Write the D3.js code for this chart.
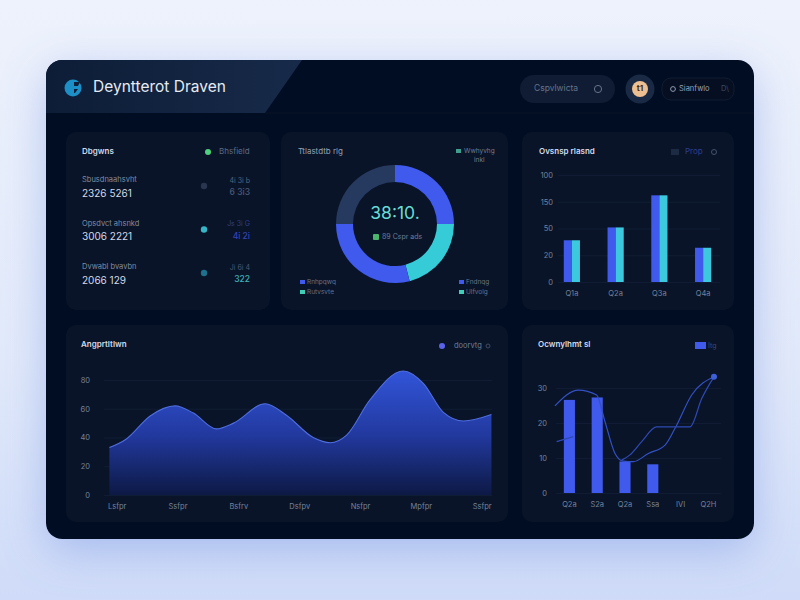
<!DOCTYPE html>
<html>
<head>
<meta charset="utf-8">
<title>Dashboard</title>
<script src="https://cdn.jsdelivr.net/npm/d3@7"></script>
<style>
  html, body { margin: 0; padding: 0; background: #e6ecfa; overflow: hidden; }
  text { font-family: "Inter", "Liberation Sans", sans-serif; }
</style>
</head>
<body>
<div id="graph"></div>
<script>
// Overview list
var listLabels = ["Sbusdnaahsvht", "Opsdvct ahsnkd", "Dvwabl bvavbn"];
var listValues = ["2326  5261", "3006  2221", "2066  129"];
var listSideLabels = ["4i 3i b", "Js 3i G", "Ji 6i 4"];
var listSideValues = ["6 3i3", "4i 2i", "322"];

// Donut
var donutValues = [25, 21, 29, 25];

// Grouped bars
var barCategories = ["Q1a", "Q2a", "Q3a", "Q4a"];
var barValues = [39, 51, 81, 32];
var barTicks = [0, 25, 50, 75, 100];
var barTickLabels = ["0", "20", "50", "150", "100"];

// Area chart
var areaTickLabels = ["Lsfpr", "Ssfpr", "Bsfrv", "Dsfpv", "Nsfpr", "Mpfpr", "Ssfpr"];
var areaX = [-0.12, 0.16, 0.55, 0.96, 1.26, 1.64, 1.92, 2.44, 2.79, 3.23, 3.51, 3.78, 4.16, 4.71, 5.04, 5.37, 5.7, 6.16];
var areaY = [33, 39, 55, 62, 57, 46, 50, 63.5, 55.5, 40, 36.4, 41.7, 66, 86.3, 77.7, 57.5, 51.5, 56];
var areaTicks = [0, 20, 40, 60, 80];

// Combo chart
var comboCategories = ["Q2a", "S2a", "Q2a", "Ssa", "IVI", "Q2H"];
var comboBars = [26.6, 27.3, 9, 8.2];
var comboTicks = [0, 10, 20, 30];
var lineAX = [-0.52, 0.32, 0.98, 1.28, 1.64, 1.94, 2.3, 2.84, 3.44, 3.8, 4.4, 5.2];
var lineAY = [24.9, 29.4, 28, 20.4, 11.3, 9.1, 8.95, 11.3, 13.7, 18.5, 28, 33.2];
var lineBX = [-0.46, 0.14, 1, 1.88, 2.18, 2.6, 3.14, 4.34, 4.76, 5.2];
var lineBY = [14.7, 16.1, null, 9.4, 10.9, 14.7, 18.9, 18.9, 27, 33.2];

var BLUE = "#3f5aec", CYAN = "#3cc9de", DARK = "#26395f";
var WHITE = "#d3dae8", GREY = "#6c7990", AXIS = "#76829a";

var svg = d3.select("#graph").append("svg")
  .attr("width", 800)
  .attr("height", 600)
  .style("display", "block");

var defs = svg.append("defs");

function vGradient(id, y1, y2, stops) {
  var g = defs.append("linearGradient").attr("id", id)
    .attr("gradientUnits", "userSpaceOnUse")
    .attr("x1", 0).attr("x2", 0).attr("y1", y1).attr("y2", y2);
  stops.forEach(function (s) {
    g.append("stop").attr("offset", s[0]).attr("stop-color", s[1]);
  });
}
vGradient("pageBg", 0, 600, [[0, "#eef2fc"], [0.6, "#e2e9fa"], [1, "#cfdbf8"]]);
vGradient("areaFill", 372, 497, [[0, "#3154d8"], [0.5, "#22399f"], [1, "#0c1842"]]);

var headGrad = defs.append("linearGradient").attr("id", "headFill")
  .attr("x1", 0).attr("x2", 1).attr("y1", 0).attr("y2", 0);
headGrad.append("stop").attr("offset", 0).attr("stop-color", "#0d1d37");
headGrad.append("stop").attr("offset", 1).attr("stop-color", "#172a49");

var shadow = defs.append("filter").attr("id", "panelShadow")
  .attr("x", "-15%").attr("y", "-15%").attr("width", "130%").attr("height", "135%");
shadow.append("feDropShadow")
  .attr("dx", 0).attr("dy", 12).attr("stdDeviation", 22)
  .attr("flood-color", "#6f8fe0").attr("flood-opacity", 0.45);

defs.append("clipPath").attr("id", "panelClip").append("rect")
  .attr("x", 46).attr("y", 60).attr("width", 708).attr("height", 479).attr("rx", 16);

// Page and panel
svg.append("rect").attr("width", 800).attr("height", 600).attr("fill", "url(#pageBg)");
svg.append("rect")
  .attr("x", 46).attr("y", 60).attr("width", 708).attr("height", 479).attr("rx", 16)
  .attr("fill", "#060e21")
  .attr("filter", "url(#panelShadow)");

svg.append("polygon")
  .attr("points", "46,60 302,60 265,113 46,113")
  .attr("fill", "url(#headFill)")
  .attr("clip-path", "url(#panelClip)");
svg.append("line")
  .attr("x1", 265).attr("x2", 754).attr("y1", 113).attr("y2", 113)
  .attr("stroke", "#0b1528");

// Cards
var cards = [[66, 132, 204, 178], [281, 132, 227, 178], [522, 132, 212, 178], [66, 325, 442, 197], [522, 325, 212, 197]];
svg.selectAll("rect.card").data(cards).enter().append("rect")
  .attr("class", "card")
  .attr("x", function (d) { return d[0]; })
  .attr("y", function (d) { return d[1]; })
  .attr("width", function (d) { return d[2]; })
  .attr("height", function (d) { return d[3]; })
  .attr("rx", 10)
  .attr("fill", "#091428");

function label(x, y, str, size, color, anchor, weight) {
  return svg.append("text")
    .attr("x", x).attr("y", y)
    .attr("font-size", size)
    .attr("fill", color)
    .attr("text-anchor", anchor || "start")
    .attr("font-weight", weight || 400)
    .attr("dominant-baseline", "middle")
    .text(str);
}

function ring(x, y, r, color) {
  svg.append("circle").attr("cx", x).attr("cy", y).attr("r", r)
    .attr("fill", "none").attr("stroke", color);
}

// Header
svg.append("circle").attr("cx", 73).attr("cy", 88).attr("r", 8.5).attr("fill", "#1c8fc6");
svg.append("path").attr("d", "M74,82 h6 l-2,4 h-4 z M74,89 h4 l-3,4 h-1 z").attr("fill", "#0e1f3a");
label(93, 88, "Deyntterot Draven", 15.5, "#e6ebf3", "start", 400);

svg.append("rect").attr("x", 520).attr("y", 75).attr("width", 95).attr("height", 28).attr("rx", 14).attr("fill", "#0f1c33");
label(534, 89, "Cspvlwicta", 8.5, "#66738a");
ring(598, 89, 3.6, "#66738a");

svg.append("circle").attr("cx", 640).attr("cy", 89).attr("r", 14.5).attr("fill", "#1a2a44");
svg.append("circle").attr("cx", 640).attr("cy", 89).attr("r", 8).attr("fill", "#eebf90");
label(640, 89, "t1", 8, "#3a2a1c", "middle", 700);

svg.append("rect").attr("x", 662).attr("y", 78).attr("width", 72).attr("height", 22).attr("rx", 9)
  .attr("fill", "#060e21").attr("stroke", "#111d33");
ring(673, 89, 2.4, "#8f9bb0");
label(679, 89, "Sianfwlo", 7.5, "#98a3b6");
label(721, 89, "D\\", 7.5, "#3c4a62");

// Overview list card
label(82, 152, "Dbgwns", 8, WHITE, "start", 600);
svg.append("circle").attr("cx", 208).attr("cy", 152).attr("r", 3).attr("fill", "#4fd07c");
label(219, 152, "Bhsfield", 8, "#5c6a82");

var rowY = d3.scalePoint().domain(listLabels).range([180, 267]);
var sideColors = ["#4a5a78", "#3344b8", "#3fb0b8"];
var dotColors = ["#2a3550", "#37b4c6", "#1f708c"];
var sideTopColors = ["#56647e", "#2f3f86", "#4a5a70"];
listLabels.forEach(function (d, i) {
  var y = rowY(d);
  label(82, y, d, 7.5, "#808ca0");
  label(82, y + 14, listValues[i], 10, WHITE, "start", 400);
  label(250, y + 1, listSideLabels[i], 7, sideTopColors[i], "end");
  label(250, y + 13, listSideValues[i], 8.5, sideColors[i], "end", 500);
  svg.append("circle").attr("cx", 204).attr("cy", y + 6).attr("r", 3.2).attr("fill", dotColors[i]);
});

// Donut card
label(298, 152, "Ttlastdtb rlg", 8, "#95a0b2");
svg.append("rect").attr("x", 456).attr("y", 149).attr("width", 5).attr("height", 4).attr("fill", "#3f9f8f");
label(464, 151, "Wwhyvhg", 6.5, "#6f7d95");
label(474, 160, "inkl", 6.5, "#6f7d95");

var pie = d3.pie().sort(null);
var arc = d3.arc().innerRadius(42).outerRadius(59);
var donutColors = [BLUE, "#35ccd8", BLUE, DARK];
svg.append("g").attr("transform", "translate(395,224)")
  .selectAll("path").data(pie(donutValues)).enter().append("path")
  .attr("d", arc)
  .attr("fill", function (d, i) { return donutColors[i]; });

label(395, 214, "38:10.", 17.5, "#67ddd6", "middle", 400);
svg.append("rect").attr("x", 373).attr("y", 234).attr("width", 6).attr("height", 6).attr("rx", 1).attr("fill", "#4cb56c");
label(382, 237, "89 Cspr ads", 7, "#6f7d95");

[[300, 282, BLUE, "Rnhpqwq"], [300, 292, "#3fcfb8", "Rutvsvte"], [459, 282, BLUE, "Fndnqg"], [459, 292, "#3fcfb8", "Ulfvolg"]].forEach(function (d) {
  svg.append("rect").attr("x", d[0]).attr("y", d[1] - 2).attr("width", 5).attr("height", 4).attr("fill", d[2]);
  label(d[0] + 7, d[1], d[3], 6.5, "#65738a");
});

function styleAxis(g, gridColor) {
  g.select(".domain").remove();
  g.selectAll(".tick line").attr("stroke", gridColor);
  g.selectAll(".tick text").attr("fill", AXIS).attr("font-size", 7.5);
}

// Grouped bar card
label(539, 152, "Ovsnsp rlasnd", 8, WHITE, "start", 600);
svg.append("rect").attr("x", 671).attr("y", 149).attr("width", 8).attr("height", 6).attr("fill", "#1c2a44");
label(685, 152, "Prop", 8, "#2f3f8e");
ring(714, 152, 2.5, "#44526c");

var barX = d3.scaleBand().domain(barCategories).range([550, 725]).paddingInner(0.63).paddingOuter(0.315);
var barSub = d3.scaleBand().domain([0, 1]).range([0, barX.bandwidth()]);
var barYScale = d3.scaleLinear().domain([0, 100]).range([282, 175]);

svg.append("g").attr("transform", "translate(558,0)")
  .call(d3.axisLeft(barYScale).tickValues(barTicks).tickSize(-162).tickPadding(5)
    .tickFormat(function (d, i) { return barTickLabels[i]; }))
  .call(styleAxis, "#101c33");
svg.append("g").attr("transform", "translate(0,282)")
  .call(d3.axisBottom(barX).tickSize(0).tickPadding(9))
  .call(styleAxis, "none");

var barGroups = svg.append("g").selectAll("g").data(barValues).enter().append("g")
  .attr("transform", function (d, i) { return "translate(" + barX(barCategories[i]) + ",0)"; });
[BLUE, CYAN].forEach(function (c, k) {
  barGroups.append("rect")
    .attr("x", barSub(k))
    .attr("y", function (d) { return barYScale(d); })
    .attr("width", barSub.bandwidth())
    .attr("height", function (d) { return 282 - barYScale(d); })
    .attr("fill", c);
});

// Area card
label(81, 345, "Angprtltlwn", 8, WHITE, "start", 600);
svg.append("circle").attr("cx", 442).attr("cy", 346).attr("r", 3).attr("fill", "#5a62ea");
label(454, 346, "doorvtg", 7.5, "#6f7d95");
ring(488, 346, 2, "#3c4a62");

var areaXScale = d3.scaleLinear().domain([0, 6]).range([116.7, 481.7]);
var areaYScale = d3.scaleLinear().domain([0, 80]).range([495, 380]);

svg.append("g").attr("transform", "translate(104,0)")
  .call(d3.axisLeft(areaYScale).tickValues(areaTicks).tickSize(-388).tickPadding(14))
  .call(styleAxis, "#101c33");

var areaPts = areaX.map(function (x, i) { return [x, areaY[i]]; });
var areaGen = d3.area()
  .x(function (d) { return areaXScale(d[0]); })
  .y0(areaYScale(0))
  .y1(function (d) { return areaYScale(d[1]); })
  .curve(d3.curveMonotoneX);
svg.append("path").datum(areaPts).attr("d", areaGen).attr("fill", "url(#areaFill)");
svg.append("path").datum(areaPts).attr("d", areaGen.lineY1()).attr("fill", "none")
  .attr("stroke", "#4f6de0").attr("stroke-width", 1.1);

svg.append("g").attr("transform", "translate(0,495)")
  .call(d3.axisBottom(areaXScale).tickValues(d3.range(7)).tickSize(0).tickPadding(9)
    .tickFormat(function (d, i) { return areaTickLabels[i]; }))
  .call(styleAxis, "none");

// Combo card
label(538, 345, "Ocwnylhmt sl", 8, WHITE, "start", 600);
svg.append("rect").attr("x", 695).attr("y", 342).attr("width", 11).attr("height", 7).attr("fill", BLUE);
label(708, 346, "Itg", 7, "#3a4a7a");

var comboX = d3.scaleBand().domain(d3.range(comboCategories.length)).range([555.5, 722.3]).paddingInner(0.6).paddingOuter(0.3);
var comboLineX = d3.scaleLinear().domain([0, 5]).range([
  comboX(0) + comboX.bandwidth() / 2,
  comboX(5) + comboX.bandwidth() / 2
]);
var comboY = d3.scaleLinear().domain([0, 30]).range([493, 388]);

svg.append("g").attr("transform", "translate(556,0)")
  .call(d3.axisLeft(comboY).tickValues(comboTicks).tickSize(-165).tickPadding(9))
  .call(styleAxis, "#101c33");
svg.append("g").attr("transform", "translate(0,493)")
  .call(d3.axisBottom(comboX).tickSize(0).tickPadding(9)
    .tickFormat(function (d) { return comboCategories[d]; }))
  .call(styleAxis, "none");

svg.append("g").selectAll("rect").data(comboBars).enter().append("rect")
  .attr("x", function (d, i) { return comboX(i); })
  .attr("y", function (d) { return comboY(d); })
  .attr("width", comboX.bandwidth())
  .attr("height", function (d) { return 493 - comboY(d); })
  .attr("fill", BLUE);

var comboLine = d3.line()
  .defined(function (d) { return d[1] !== null; })
  .x(function (d) { return comboLineX(d[0]); })
  .y(function (d) { return comboY(d[1]); })
  .curve(d3.curveMonotoneX);
var lineA = lineAX.map(function (x, i) { return [x, lineAY[i]]; });
var lineB = lineBX.map(function (x, i) { return [x, lineBY[i]]; });
svg.append("path").attr("d", comboLine(lineA)).attr("fill", "none").attr("stroke", "#3350c4").attr("stroke-width", 1.2);
svg.append("path").attr("d", comboLine(lineB)).attr("fill", "none").attr("stroke", "#2f49b4").attr("stroke-width", 1.2);
svg.append("circle")
  .attr("cx", comboLineX(lineAX[lineAX.length - 1]))
  .attr("cy", comboY(lineAY[lineAY.length - 1]))
  .attr("r", 3)
  .attr("fill", "#3f5fd8");
</script>
</body>
</html>
